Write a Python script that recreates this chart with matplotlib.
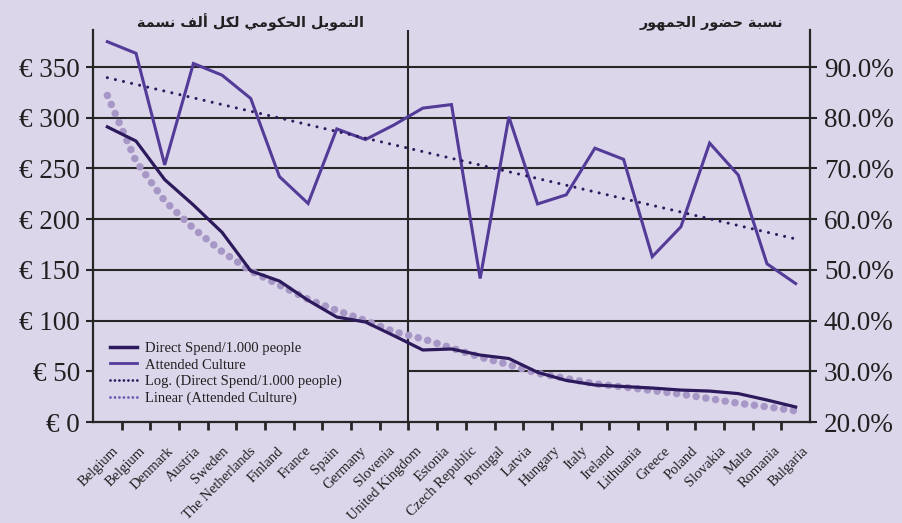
import matplotlib

matplotlib.use("Agg")
import matplotlib.pyplot as plt
import numpy as np
from matplotlib.lines import Line2D

# category labels along the bottom (26 labels, as printed)
countries = [
    "Belgium", "Belgium", "Denmark", "Austria", "Sweden", "The Netherlands",
    "Finland", "France", "Spain", "Germany", "Slovenia", "United Kingdom",
    "Estonia", "Czech Republic", "Portugal", "Latvia", "Hungary", "Italy",
    "Ireland", "Lithuania", "Greece", "Poland", "Slovakia", "Malta",
    "Romania", "Bulgaria",
]

# direct spend per 1.000 people, EUR (left axis)
direct_spend = [291, 277, 239, 214, 187, 149, 139, 120, 103.5, 98.6, 85, 71,
                72, 66, 62.6, 49, 41, 36.5, 35, 33.5, 31.5, 30.5, 28, 21.7, 14.8]
# log trend of direct spend, EUR
spend_trend = [322, 257, 218, 191, 168, 149, 135, 121, 110, 100, 89, 82, 73,
               64, 56.5, 48, 43, 37.7, 34.5, 31, 27.5, 23, 18.5, 15, 11]
# attended culture, percent (right axis)
attended = [95.0, 92.7, 70.7, 90.7, 88.4, 83.8, 68.4, 63.1, 77.8, 75.7, 78.6,
            81.9, 82.6, 48.3, 80.2, 63.0, 64.8, 74.0, 71.8, 52.6, 58.5, 75.0,
            68.7, 51.2, 47.3]
# linear trend of attended culture, first and last point, percent
attended_trend = [87.9, 56.1]

eur_ticks = [0, 50, 100, 150, 200, 250, 300, 350]
pct_ticks = [20, 30, 40, 50, 60, 70, 80, 90]

legend_labels = [
    "Direct Spend/1.000 people",
    "Attended Culture",
    "Log. (Direct Spend/1.000 people)",
    "Linear (Attended Culture)",
]

title_left = "التمويل الحكومي لكلَ ألف نسمة"
title_right = "نسبة حضور الجمهور"

BG = "#dcd6eb"
DARK = "#2c1a5c"
PURPLE = "#533b98"
LAVENDER = "#a697c6"
GRID = "#262626"
TEXT = "#231f20"

# arabic presentation forms: isolated, final, initial, medial
FORMS = {
    "\u0627": ("\ufe8d", "\ufe8e", None, None),
    "\u0623": ("\ufe83", "\ufe84", None, None),
    "\u0644": ("\ufedd", "\ufede", "\ufedf", "\ufee0"),
    "\u062a": ("\ufe95", "\ufe96", "\ufe97", "\ufe98"),
    "\u0645": ("\ufee1", "\ufee2", "\ufee3", "\ufee4"),
    "\u0648": ("\ufeed", "\ufeee", None, None),
    "\u064a": ("\ufef1", "\ufef2", "\ufef3", "\ufef4"),
    "\u062d": ("\ufea1", "\ufea2", "\ufea3", "\ufea4"),
    "\u0643": ("\ufed9", "\ufeda", "\ufedb", "\ufedc"),
    "\u0641": ("\ufed1", "\ufed2", "\ufed3", "\ufed4"),
    "\u0646": ("\ufee5", "\ufee6", "\ufee7", "\ufee8"),
    "\u0633": ("\ufeb1", "\ufeb2", "\ufeb3", "\ufeb4"),
    "\u0629": ("\ufe93", "\ufe94", None, None),
    "\u0628": ("\ufe8f", "\ufe90", "\ufe91", "\ufe92"),
    "\u0636": ("\ufebd", "\ufebe", "\ufebf", "\ufec0"),
    "\u0631": ("\ufead", "\ufeae", None, None),
    "\u062c": ("\ufe9d", "\ufe9e", "\ufe9f", "\ufea0"),
    "\u0647": ("\ufee9", "\ufeea", "\ufeeb", "\ufeec"),
}


def is_mark(c):
    return "\u064b" <= c <= "\u0652"


def shape_arabic(text):
    """Join letters and put them in visual (left-to-right) order."""
    chars = list(text)
    out = []
    for i, c in enumerate(chars):
        if c not in FORMS:
            out.append(c)
            continue
        j = i - 1
        while j >= 0 and is_mark(chars[j]):
            j -= 1
        k = i + 1
        while k < len(chars) and is_mark(chars[k]):
            k += 1
        prev_joins = j >= 0 and chars[j] in FORMS and FORMS[chars[j]][2] is not None
        next_joins = k < len(chars) and chars[k] in FORMS and FORMS[c][2] is not None
        iso, fin, ini, med = FORMS[c]
        if prev_joins and next_joins:
            out.append(med)
        elif prev_joins:
            out.append(fin)
        elif next_joins:
            out.append(ini)
        else:
            out.append(iso)
    clusters = []
    for g in out:
        if is_mark(g) and clusters:
            clusters[-1] += g
        else:
            clusters.append(g)
    return "".join(reversed(clusters))


plt.rcParams["font.family"] = ["Liberation Serif", "DejaVu Serif"]

fig = plt.figure(figsize=(9.02, 5.23), dpi=100, facecolor=BG)
ax = fig.add_axes([0.1031, 0.1931, 0.7949, 0.7495], facecolor=BG)
ax2 = ax.twinx()
ax2.patch.set_visible(False)

n = len(direct_spend)
x = np.arange(n)
eur_top = 386.5
ax.set_xlim(-0.5, n - 0.5)
ax.set_ylim(0, eur_top)
ax2.set_ylim(20, 20 + eur_top / 5)

# gridlines and divider
for v in eur_ticks[1:]:
    ax.axhline(v, color=GRID, lw=1.5, zorder=1)
ax.axvline(n / 2 - 2, color=GRID, lw=1.5, zorder=1.3)

ax.plot(x, spend_trend, color=LAVENDER, lw=5.4, linestyle=(0, (0.01, 1.3)),
        dash_capstyle="round", zorder=3)
ax.plot(x, direct_spend, color=DARK, lw=2.3, solid_joinstyle="round", zorder=4)
ax2.plot(x, attended, color=PURPLE, lw=2.2, solid_joinstyle="miter", zorder=3)
ax2.plot([x[0], x[-1]], attended_trend, color=DARK, lw=2.2,
         linestyle=(0, (0.01, 2.7)), dash_capstyle="round", zorder=4)

# axes styling
for s in ("top", "right"):
    ax.spines[s].set_visible(False)
for s in ("top", "left", "bottom"):
    ax2.spines[s].set_visible(False)
for sp in (ax.spines["left"], ax.spines["bottom"], ax2.spines["right"]):
    sp.set_color(GRID)
    sp.set_linewidth(1.6)

ax.set_yticks(eur_ticks, [f"€ {v}" for v in eur_ticks])
ax2.set_yticks(pct_ticks, [f"{v:.1f}%" for v in pct_ticks])
ax.tick_params(axis="y", length=5, width=1.5, color=GRID, pad=4.5,
               labelsize=19.5, labelcolor=TEXT)
ax2.tick_params(axis="y", length=5, width=1.5, color=GRID, pad=5,
                labelsize=19.5, labelcolor=TEXT)

label_pos = np.linspace(0.15, n - 0.8, len(countries))
ax.set_xticks(label_pos)
ax.set_xticklabels(countries, rotation=45, ha="right", va="top",
                   rotation_mode="anchor", fontsize=10.5, color=TEXT)
ax.tick_params(axis="x", which="major", length=0, pad=16)
ax.set_xticks(np.arange(0.5, n - 0.5), minor=True)
ax.tick_params(axis="x", which="minor", length=6, width=2, color=GRID,
               direction="out")

handles = [
    Line2D([], [], color=DARK, lw=2.5),
    Line2D([], [], color=PURPLE, lw=2.0),
    Line2D([], [], color=DARK, lw=2.0, linestyle=(0, (0.01, 1.6)),
           dash_capstyle="round"),
    Line2D([], [], color="#6a56b0", lw=2.0, linestyle=(0, (0.01, 1.6)),
           dash_capstyle="round"),
]
leg = ax.legend(handles, legend_labels, loc="lower left",
                bbox_to_anchor=(0, 0.0, (n / 2 - 1.5) / n, 0.2), mode="expand",
                borderaxespad=0, borderpad=1.15, fancybox=False,
                facecolor=BG, edgecolor="none", framealpha=1,
                handlelength=1.9, handletextpad=0.55, labelspacing=0.23,
                prop={"size": 10.5})
for t in leg.get_texts():
    t.set_color(TEXT)
leg.set_zorder(1.2)

fig.text(0.278, 0.957, shape_arabic(title_left), ha="center", va="center",
         fontsize=10.4, fontweight="bold", family=["DejaVu Sans"], color=TEXT)
fig.text(0.868, 0.957, shape_arabic(title_right), ha="right", va="center",
         fontsize=10.4, fontweight="bold", family=["DejaVu Sans"], color=TEXT)

fig.savefig("out.png", dpi=100, facecolor=BG)
